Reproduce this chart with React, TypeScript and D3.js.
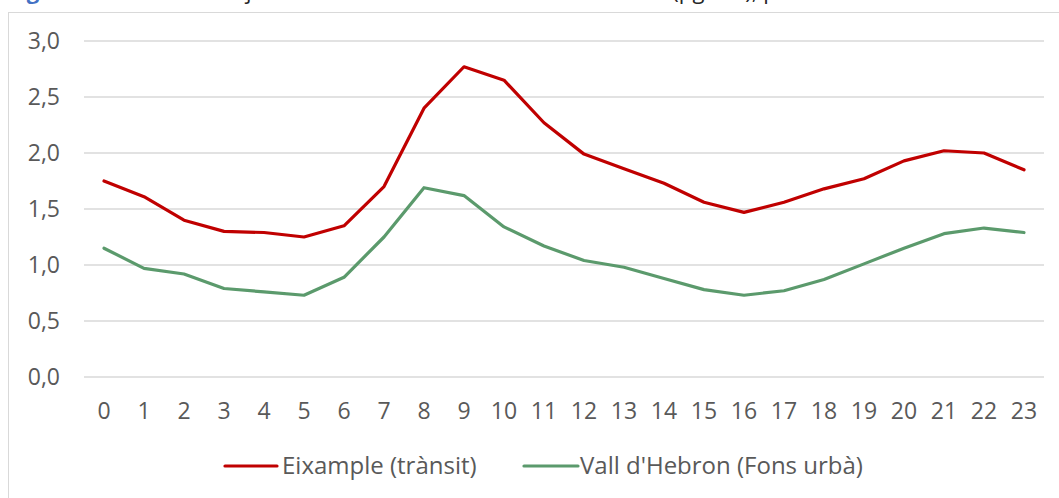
import React from "react";
import * as d3 from "d3";

const hours = d3.range(0, 24).map(String);
const eixample = [1.75, 1.61, 1.40, 1.30, 1.29, 1.25, 1.35, 1.70, 2.40, 2.77, 2.65, 2.27, 1.99, 1.86, 1.73, 1.56, 1.47, 1.56, 1.68, 1.77, 1.93, 2.02, 2.00, 1.85];
const vallHebron = [1.15, 0.97, 0.92, 0.79, 0.76, 0.73, 0.89, 1.25, 1.69, 1.62, 1.34, 1.17, 1.04, 0.98, 0.88, 0.78, 0.73, 0.77, 0.87, 1.01, 1.15, 1.28, 1.33, 1.29];
const yTicks = [0, 0.5, 1, 1.5, 2, 2.5, 3];
const seriesNames = ["Eixample (trànsit)", "Vall d'Hebron (Fons urbà)"];
const seriesColors = ["#C00000", "#5B9A6C"];

const W = 1059, H = 498;
const left = 84, right = 1044, top = 41, bottom = 377;

export default function App() {
  const x = d3.scalePoint<string>().domain(hours).range([left, right]).padding(0.5);
  const y = d3.scaleLinear().domain([0, 3]).range([bottom, top]);
  const line = d3.line<number>().x((_, i) => x(hours[i]) as number).y((d) => y(d));
  const series = [eixample, vallHebron];
  const font = "'Open Sans', sans-serif";
  const legendItems = [
    { x1: 225, x2: 277, tx: 282 },
    { x1: 524, x2: 578, tx: 580 },
  ];
  return (
    <svg width={W} height={H} style={{ position: "absolute", left: 0, top: 0, background: "#fff" }} fontFamily={font}>
      <text x={8} y={-1} fontSize={22} fill="#262626">
        <tspan fill="#4472C4" fontWeight="bold">Figura 2.</tspan> Cicle diari mitjà de la concentració de NO2 a Barcelona (µg/m3), per hora del dia
      </text>
      <rect x={8.5} y={12.5} width={W + 10} height={H + 10} fill="none" stroke="#d9d9d9" strokeWidth={1} />
      {yTicks.map((t) => (
        <g key={t}>
          <line x1={left} x2={right} y1={y(t)} y2={y(t)} stroke="#d9d9d9" strokeWidth={1.3} />
          <text x={60} y={y(t)} dy="0.35em" textAnchor="end" fontSize={23} fill="#595959">
            {t.toFixed(1).replace(".", ",")}
          </text>
        </g>
      ))}
      {hours.map((h) => (
        <text key={h} x={x(h)} y={411} dy="0.35em" textAnchor="middle" fontSize={23} fill="#595959">
          {h}
        </text>
      ))}
      {series.map((s, i) => (
        <path key={i} d={line(s) || ""} fill="none" stroke={seriesColors[i]} strokeWidth={3.2} strokeLinejoin="round" strokeLinecap="round" />
      ))}
      {legendItems.map((l, i) => (
        <g key={i}>
          <line x1={l.x1} x2={l.x2} y1={466} y2={466} stroke={seriesColors[i]} strokeWidth={3.2} strokeLinecap="round" />
          <text x={l.tx} y={466} dy="0.35em" fontSize={24} fill="#595959">
            {seriesNames[i]}
          </text>
        </g>
      ))}
    </svg>
  );
}
